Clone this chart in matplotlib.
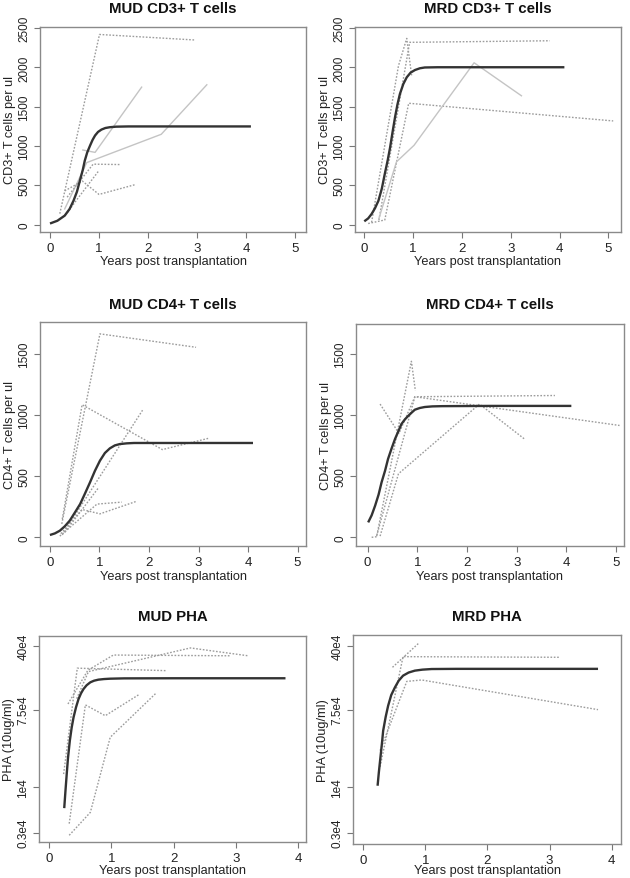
import matplotlib
matplotlib.use("Agg")
import matplotlib.pyplot as plt

plt.rcParams['font.family'] = ['Liberation Sans', 'DejaVu Sans']

W, H = 630, 879

years = "Years post transplantation"

# MUD CD3+ T cells
mud_cd3_fit_x = [0.0, 0.15, 0.3, 0.4, 0.48, 0.55, 0.61, 0.67, 0.71, 0.76, 0.82, 0.87, 0.92, 0.98, 1.05, 1.13, 1.22, 1.35, 1.6, 2.5, 4.1]
mud_cd3_fit_y = [15, 50, 115, 200, 305, 420, 560, 700, 815, 920, 1010, 1080, 1135, 1180, 1210, 1230, 1240, 1247, 1250, 1250, 1250]
mud_cd3_patients = [
    ([0.2, 1.01, 2.95], [140, 2420, 2350]),
    ([0.67, 0.92, 1.87], [950, 920, 1750]),
    ([0.3, 0.75, 2.27, 3.2], [200, 790, 1150, 1780]),
    ([0.35, 0.88, 1.43], [350, 770, 765]),
    ([0.3, 0.66, 1.0, 1.74], [430, 555, 385, 510]),
    ([0.35, 0.55, 1.0], [150, 320, 690]),
]

# MRD CD3+ T cells
mrd_cd3_fit_x = [0.0, 0.08, 0.15, 0.22, 0.29, 0.36, 0.42, 0.48, 0.53, 0.58, 0.63, 0.68, 0.73, 0.8, 0.87, 0.95, 1.04, 1.14, 1.24, 1.5, 2.5, 4.1]
mrd_cd3_fit_y = [43, 80, 136, 210, 305, 460, 645, 820, 985, 1180, 1366, 1530, 1663, 1790, 1875, 1935, 1968, 1990, 2000, 2003, 2003, 2003]
mrd_cd3_patients = [
    ([0.08, 0.42, 0.91, 5.1], [15, 60, 1545, 1320]),
    ([0.15, 0.7, 0.87, 0.97], [30, 2020, 2370, 1900]),
    ([0.3, 0.93, 3.8], [60, 2320, 2340]),
    ([0.3, 0.66, 1.02, 2.25, 3.22], [80, 800, 1010, 2060, 1640]),
]

# MUD CD4+ T cells
mud_cd4_fit_x = [0.0, 0.1, 0.2, 0.3, 0.4, 0.5, 0.61, 0.71, 0.81, 0.91, 1.01, 1.11, 1.21, 1.31, 1.41, 1.55, 1.7, 2.2, 4.1]
mud_cd4_fit_y = [19, 32, 54, 90, 136, 200, 272, 360, 450, 545, 627, 690, 728, 752, 763, 769, 772, 772, 772]
mud_cd4_patients = [
    ([0.24, 1.01, 2.95], [110, 1665, 1555]),
    ([0.25, 0.65, 2.27, 3.2], [150, 1085, 718, 810]),
    ([0.25, 1.87], [20, 1040]),
    ([0.3, 0.98], [40, 405]),
    ([0.2, 0.95, 1.45], [10, 272, 288]),
    ([0.22, 0.65, 1.01, 1.75], [30, 228, 192, 295]),
]

# MRD CD4+ T cells
mrd_cd4_fit_x = [0.01, 0.08, 0.15, 0.22, 0.28, 0.35, 0.41, 0.48, 0.55, 0.62, 0.68, 0.75, 0.82, 0.89, 0.95, 1.05, 1.15, 1.3, 1.5, 2.5, 4.1]
mrd_cd4_fit_y = [122, 180, 259, 350, 450, 545, 641, 725, 804, 870, 927, 965, 995, 1022, 1044, 1058, 1066, 1071, 1073, 1075, 1075]
mrd_cd4_patients = [
    ([0.25, 0.63, 0.95, 5.07], [1090, 850, 1150, 915]),
    ([0.08, 0.18, 0.88, 0.96], [0, 5, 1440, 1200]),
    ([0.18, 0.95, 3.77], [10, 1150, 1160]),
    ([0.25, 0.62, 2.25, 3.17], [10, 520, 1090, 800]),
]

# MUD PHA
mud_pha_fit_x = [0.24, 0.26, 0.28, 0.3, 0.33, 0.36, 0.39, 0.43, 0.47, 0.51, 0.55, 0.6, 0.66, 0.72, 0.79, 0.88, 0.98, 1.2, 2.0, 3.8]
mud_pha_fit_y = [5700, 9000, 13900, 21000, 33300, 47000, 61400, 80000, 99000, 115000, 128700, 142000, 153400, 160000, 164400, 167000, 168600, 170000, 170500, 170500]
mud_pha_patients = [
    ([0.23, 0.45, 1.89], [13900, 222000, 208000]),
    ([0.32, 0.58, 0.9, 1.44], [3800, 85000, 64000, 111000]),
    ([0.32, 0.66, 0.98, 1.72], [2800, 5100, 36400, 116000]),
    ([0.3, 0.62, 1.03, 2.91], [87000, 210000, 313000, 307000]),
    ([0.44, 0.63, 2.27, 3.2], [100000, 203000, 377000, 307000]),
]

# MRD PHA
mrd_pha_fit_x = [0.23, 0.25, 0.27, 0.3, 0.32, 0.36, 0.4, 0.45, 0.51, 0.57, 0.64, 0.73, 0.83, 0.95, 1.1, 1.5, 2.5, 3.78]
mrd_pha_fit_y = [10250, 14500, 19700, 31000, 43300, 62000, 83200, 110000, 134600, 160000, 182400, 198000, 208000, 213500, 217000, 218000, 218000, 218000]
mrd_pha_patients = [
    ([0.47, 0.89], [227000, 425000]),
    ([0.27, 0.64, 3.17], [16800, 300000, 295000]),
    ([0.27, 0.7, 0.94, 3.78], [25700, 157000, 163000, 75000]),
]

pha_ticks = [3000, 10000, 75000, 400000]
pha_labels = ["0.3e4", "1e4", "7.5e4", "40e4"]

fig = plt.figure(figsize=(W / 100, H / 100), dpi=100)
fig.patch.set_facecolor('white')


def panel(box, title, title_y, xlab_y, ylabel, fit, patients, xlim, ylim,
          xticks, yticks, yticklabels=None, log=False, light=()):
    l, t, r, b = box
    ax = fig.add_axes([l / W, 1 - b / H, (r - l) / W, (b - t) / H])
    if log:
        ax.set_yscale('log')
    for i, (px, py) in enumerate(patients):
        if i in light:
            ax.plot(px, py, color='#c4c4c4', lw=1.0, ls='-')
        else:
            ax.plot(px, py, color='#9c9c9c', lw=1.0, ls=(0, (1.2, 1.2)))
    ax.plot(fit[0], fit[1], color='#333333', lw=1.7, solid_capstyle='butt')
    ax.set_xlim(*xlim)
    ax.set_ylim(*ylim)
    ax.set_xticks(xticks)
    ax.set_xticklabels([str(v) for v in xticks], fontsize=9.5, color='#222222')
    ax.set_yticks(yticks)
    ax.minorticks_off()
    ax.set_yticklabels(yticklabels if yticklabels else [str(v) for v in yticks],
                       fontsize=8.5, color='#222222', rotation=90, va='center')
    ax.tick_params(direction='out', length=4, width=0.8, color='#777777', pad=3)
    for s in ax.spines.values():
        s.set_color('#8a8a8a')
        s.set_linewidth(1.0)
    cx = (l + r) / 2
    fig.text(cx / W, 1 - title_y / H, title, ha='center', va='center',
             fontsize=10.8, fontweight='bold', color='#111111')
    fig.text(cx / W, 1 - xlab_y / H, years, ha='center', va='center',
             fontsize=9.2, color='#222222')
    fig.text((l - 30) / W, 1 - (t + b) / 2 / H, ylabel, ha='center', va='center',
             rotation=90, fontsize=9.2, color='#222222')
    return ax


panel((40, 28, 306, 233), "MUD CD3+ T cells", 9, 262, "CD3+ T cells per ul",
      (mud_cd3_fit_x, mud_cd3_fit_y), mud_cd3_patients,
      (-0.204, 5.224), (-93, 2515), [0, 1, 2, 3, 4, 5], [0, 500, 1000, 1500, 2000, 2500],
      light=(1, 2))
panel((355, 28, 621, 233), "MRD CD3+ T cells", 9, 262, "CD3+ T cells per ul",
      (mrd_cd3_fit_x, mrd_cd3_fit_y), mrd_cd3_patients,
      (-0.19, 5.26), (-93, 2515), [0, 1, 2, 3, 4, 5], [0, 500, 1000, 1500, 2000, 2500],
      light=(3,))
panel((40, 323, 306, 547), "MUD CD4+ T cells", 305, 577, "CD4+ T cells per ul",
      (mud_cd4_fit_x, mud_cd4_fit_y), mud_cd4_patients,
      (-0.2, 5.17), (-71, 1762), [0, 1, 2, 3, 4, 5], [0, 500, 1000, 1500])
panel((356, 325, 624, 547), "MRD CD4+ T cells", 305, 577, "CD4+ T cells per ul",
      (mrd_cd4_fit_x, mrd_cd4_fit_y), mrd_cd4_patients,
      (-0.235, 5.16), (-71, 1745), [0, 1, 2, 3, 4, 5], [0, 500, 1000, 1500])
panel((39, 637, 306, 843), "MUD PHA", 617, 871, "PHA (10ug/ml)",
      (mud_pha_fit_x, mud_pha_fit_y), mud_pha_patients,
      (-0.166, 4.13), (10 ** 3.371, 10 ** 5.712), [0, 1, 2, 3, 4], pha_ticks, pha_labels, log=True)
panel((353, 636, 621, 845), "MRD PHA", 617, 871, "PHA (10ug/ml)",
      (mrd_pha_fit_x, mrd_pha_fit_y), mrd_pha_patients,
      (-0.166, 4.15), (10 ** 3.349, 10 ** 5.723), [0, 1, 2, 3, 4], pha_ticks, pha_labels, log=True)

fig.savefig("out.png", dpi=100, facecolor='white')
